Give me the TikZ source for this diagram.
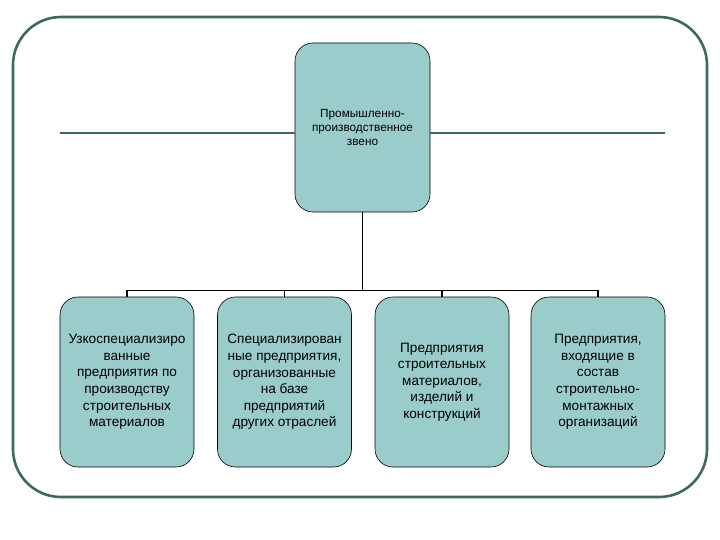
\documentclass[tikz,border=0pt]{standalone}
\usepackage{fontspec}
\setmainfont{Liberation Sans}
\usetikzlibrary{positioning, calc}
\definecolor{boxfill}{HTML}{99CCCA}
\definecolor{framecol}{HTML}{3B6863}

\begin{document}
\begin{tikzpicture}[x=1pt, y=-1pt,
    unit/.style={draw=black, line width=0.6pt, fill=boxfill, rounded corners=18pt,
      minimum width=134pt, minimum height=170pt, inner sep=2pt, align=center,
      font=\fontsize{13.6}{16.6}\selectfont},
    link/.style={draw=black, line width=1.6pt},
    deco/.style={draw=framecol, line width=2.6pt}]
    \useasboundingbox (0,0) rectangle (720,540);
    % frame
    \draw[deco, rounded corners=48pt] (13,17) rectangle (707,497);
    % top unit
    \node[unit, minimum width=135pt, minimum height=169pt,
      font=\fontsize{11.8}{14}\selectfont] (top) at (362.5,127.5)
      {Промышленно-\\производственное\\звено};
    \coordinate (hleft) at (60,133);
    \coordinate (hright) at (665,133);
    \draw[deco] (hleft) -- (hleft -| top.west);
    \draw[deco] (top.east |- hright) -- (hright);
    % lower units
    \node[unit] (u1) at (127,382) {Узкоспециализиро\\ванные\\предприятия по\\производству\\строительных\\материалов};
    \node[unit] (u2) at (284.5,382) {Специализирован\\ные предприятия,\\организованные\\на базе\\предприятий\\других отраслей};
    \node[unit] (u3) at (442,382) {Предприятия\\строительных\\материалов,\\изделий и\\конструкций};
    \node[unit] (u4) at (598,382) {Предприятия,\\входящие в\\состав\\строительно-\\монтажных\\организаций};
    % links
    \coordinate (bus) at ($(top.south)+(0,78)$);
    \draw[link] (top.south) -- (bus);
    \draw[link] (u1.north) -- (u1.north |- bus) -- (u4.north |- bus) -- (u4.north);
    \draw[link] (u2.north) -- (u2.north |- bus);
    \draw[link] (u3.north) -- (u3.north |- bus);
\end{tikzpicture}
\end{document}
